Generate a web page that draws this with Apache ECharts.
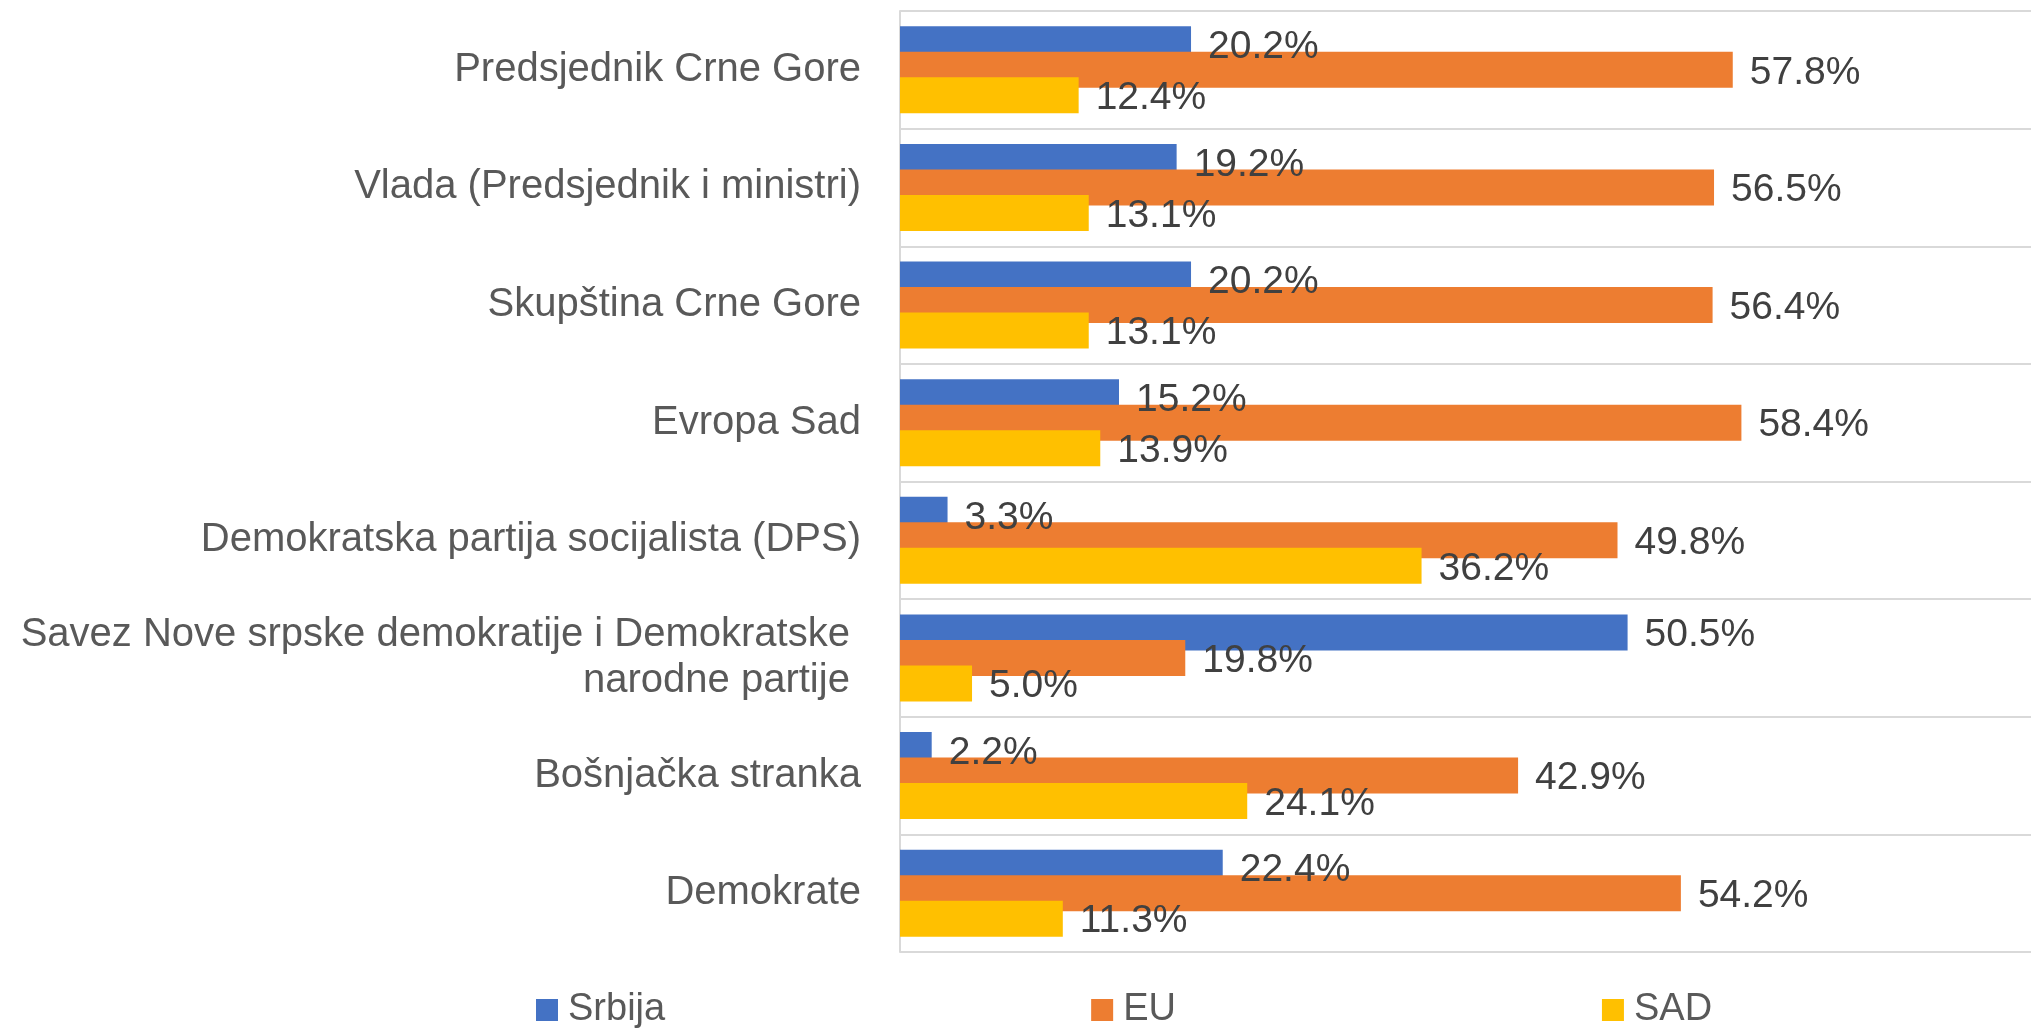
<!DOCTYPE html>
<html>
<head>
<meta charset="utf-8">
<script src="https://cdn.jsdelivr.net/npm/echarts@6/dist/echarts.min.js"></script>
<style>
  html, body { margin: 0; padding: 0; background: #fff; }
  #chart { width: 2031px; height: 1028px; }
</style>
</head>
<body>
<div id="chart"></div>
<script>
// kategorije (odozgo prema dolje)
var categories = [
  'Predsjednik Crne Gore',
  'Vlada (Predsjednik i ministri)',
  'Skupština Crne Gore',
  'Evropa Sad',
  'Demokratska partija socijalista (DPS)',
  'Savez Nove srpske demokratije i Demokratske \nnarodne partije ',
  'Bošnjačka stranka',
  'Demokrate'
];
var srbija = [20.2, 19.2, 20.2, 15.2, 3.3, 50.5, 2.2, 22.4];
var eu     = [57.8, 56.5, 56.4, 58.4, 49.8, 19.8, 42.9, 54.2];
var sad    = [12.4, 13.1, 13.1, 13.9, 36.2, 5.0, 24.1, 11.3];

var font = 'Liberation Sans, Arial, sans-serif';

function barSeries(name, data, color) {
  return {
    name: name,
    type: 'bar',
    data: data,
    barWidth: 36,
    barGap: '-29%',
    itemStyle: { color: color },
    label: {
      show: true,
      position: 'right',
      distance: 17,
      offset: [0, 3],
      color: '#404040',
      fontSize: 39,
      fontFamily: font,
      formatter: function (p) { return p.value.toFixed(1) + '%'; }
    }
  };
}

var chart = echarts.init(document.getElementById('chart'));
chart.setOption({
  animation: false,
  grid: { left: 900, right: 0, top: 11, bottom: 76, containLabel: false, outerBoundsMode: 'none' },
  legend: {
    data: ['Srbija', 'EU', 'SAD'],
    left: 531,
    top: 986,
    icon: 'rect',
    itemWidth: 22,
    itemHeight: 22,
    itemGap: 426,
    textStyle: { color: '#595959', fontSize: 38, fontFamily: font, padding: [0, 0, 0, 5] }
  },
  xAxis: {
    type: 'value',
    min: 0,
    max: 78.5,
    show: false
  },
  yAxis: {
    type: 'category',
    inverse: true,
    data: categories,
    axisTick: { show: false },
    axisLine: { show: true, lineStyle: { color: '#d9d9d9', width: 2 } },
    splitLine: { show: true, lineStyle: { color: '#d9d9d9', width: 2 } },
    axisLabel: {
      margin: 39,
      color: '#595959',
      fontSize: 40,
      lineHeight: 46,
      fontFamily: font,
      align: 'right',
      padding: [5, 0, 0, 0]
    }
  },
  series: [
    barSeries('Srbija', srbija, '#4472C4'),
    barSeries('EU', eu, '#ED7D31'),
    barSeries('SAD', sad, '#FFC000')
  ]
});
</script>
</body>
</html>
